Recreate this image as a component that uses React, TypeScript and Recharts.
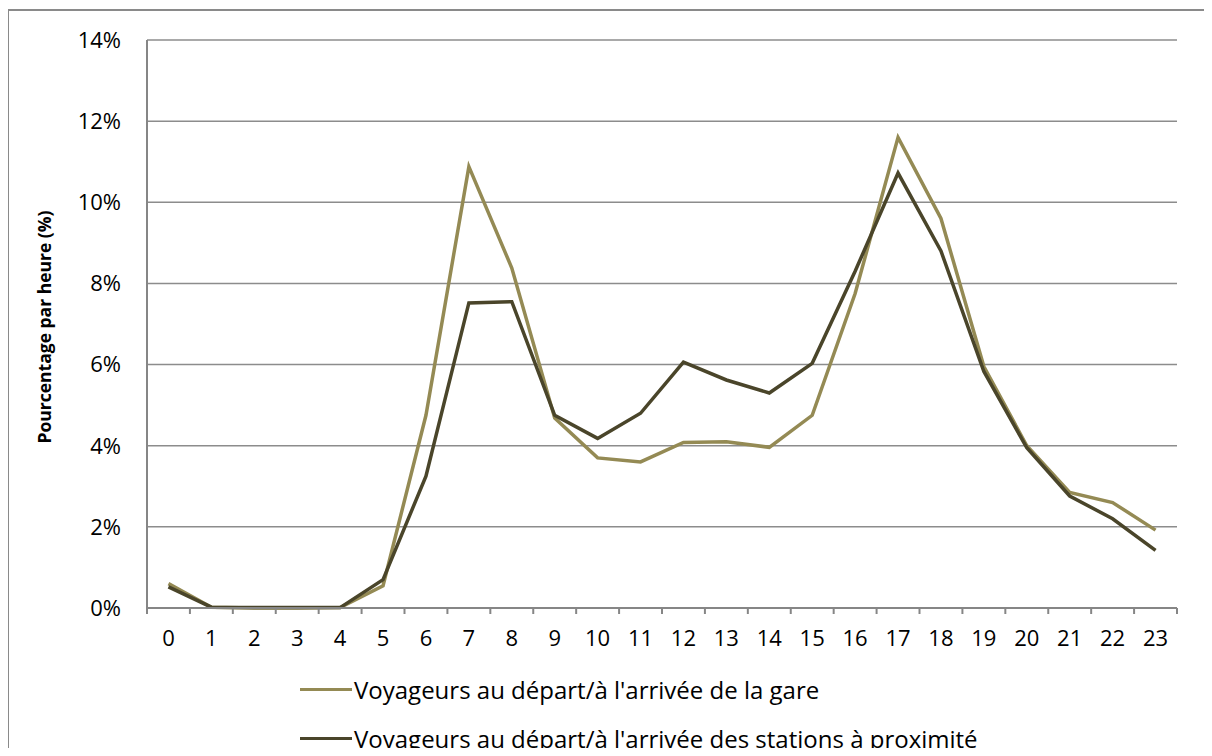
import React from "react"
import { LineChart, Line, XAxis, YAxis, CartesianGrid, Legend } from "recharts"

const HOURS = ["0", "1", "2", "3", "4", "5", "6", "7", "8", "9", "10", "11", "12", "13", "14", "15", "16", "17", "18", "19", "20", "21", "22", "23"]

const GARE = [0.6, 0.02, 0, 0, 0.01, 0.55, 4.75, 10.88, 8.38, 4.68, 3.7, 3.6, 4.08, 4.1, 3.96, 4.75, 7.75, 11.6, 9.6, 5.95, 4.0, 2.85, 2.6, 1.92]
const STATIONS = [0.52, 0.02, 0.01, 0.01, 0.01, 0.7, 3.25, 7.52, 7.55, 4.75, 4.18, 4.8, 6.06, 5.62, 5.3, 6.03, 8.3, 10.72, 8.8, 5.83, 3.95, 2.76, 2.2, 1.42]

const Y_TICKS = [0, 2, 4, 6, 8, 10, 12, 14]

const SERIES = [
    { key: "gare", name: "Voyageurs au départ/à l'arrivée de la gare", color: "#948A54" },
    { key: "stations", name: "Voyageurs au départ/à l'arrivée des stations à proximité", color: "#4A452A" },
]

const data = HOURS.map((h, i) => ({ hour: h, gare: GARE[i], stations: STATIONS[i] }))

const FONT = "'Open Sans', 'Noto Sans', sans-serif"
const AXIS_GRAY = "#868686"
// plot is 1030px wide, one band per hour
const BAND = 1030 / HOURS.length

function HourTick(props: any) {
    const { x, y, payload, index } = props
    const left = x - BAND / 2
    const right = x + BAND / 2
    return (
        <g>
            <line x1={left} y1={y - 8} x2={left} y2={y - 2} stroke={AXIS_GRAY} strokeWidth={2} />
            {index === HOURS.length - 1 && (
                <line x1={right} y1={y - 8} x2={right} y2={y - 2} stroke={AXIS_GRAY} strokeWidth={2} />
            )}
            <text x={x} y={y + 30} textAnchor="middle" fontSize={22} fontFamily={FONT} fill="#000">
                {payload.value}
            </text>
        </g>
    )
}

function YTitle(props: any) {
    const { viewBox } = props
    const cx = viewBox.x + 46
    const cy = viewBox.y + viewBox.height / 2 + 3
    return (
        <text
            x={cx}
            y={cy}
            transform={`rotate(-90, ${cx}, ${cy})`}
            textAnchor="middle"
            dominantBaseline="middle"
            fontSize={17.5}
            fontWeight={700}
            fontFamily={FONT}
            fill="#000"
        >
            Pourcentage par heure (%)
        </text>
    )
}

function LegendBox() {
    return (
        <div style={{ fontFamily: FONT, fontSize: 24, color: "#000", lineHeight: "49px" }}>
            {SERIES.map((s) => (
                <div key={s.key} style={{ display: "flex", alignItems: "center", height: 49 }}>
                    <span style={{ display: "inline-block", width: 52, height: 3.5, background: s.color, marginRight: 2 }} />
                    <span>{s.name}</span>
                </div>
            ))}
        </div>
    )
}

export default function App() {
    return (
        <div style={{ position: "relative", margin: -8, width: 1212, height: 756, background: "#fff", overflow: "hidden" }}>
            <div
                style={{
                    position: "absolute",
                    left: 7,
                    top: 9,
                    width: 1203,
                    height: 800,
                    border: "2px solid #8a8a8a",
                    boxSizing: "border-box",
                }}
            />
            <div style={{ position: "absolute", left: 0, top: 0 }}>
                <LineChart width={1212} height={756} data={data} margin={{ top: 40, right: 35, left: 0, bottom: 118 }}>
                    <CartesianGrid horizontal={true} vertical={false} stroke="#8c8c8c" strokeWidth={1.5} />
                    <XAxis
                        dataKey="hour"
                        height={30}
                        padding={{ left: BAND / 2, right: BAND / 2 }}
                        axisLine={{ stroke: AXIS_GRAY, strokeWidth: 2 }}
                        tickLine={false}
                        tick={<HourTick />}
                        interval={0}
                    />
                    <YAxis
                        width={147}
                        domain={[0, 14]}
                        ticks={Y_TICKS}
                        tickFormatter={(v: number) => `${v}%`}
                        axisLine={{ stroke: AXIS_GRAY, strokeWidth: 2 }}
                        tickLine={false}
                        tickMargin={20}
                        tick={{ fontSize: 22, fontFamily: FONT, fill: "#000" }}
                        label={<YTitle />}
                    />
                    {SERIES.map((s) => (
                        <Line
                            key={s.key}
                            dataKey={s.key}
                            name={s.name}
                            stroke={s.color}
                            strokeWidth={3.5}
                            dot={false}
                            activeDot={false}
                            isAnimationActive={false}
                        />
                    ))}
                    <Legend
                        layout="vertical"
                        align="center"
                        verticalAlign="middle"
                        content={<LegendBox />}
                        wrapperStyle={{ position: "absolute", left: 300, top: 665, width: 900, height: 98 }}
                    />
                </LineChart>
            </div>
        </div>
    )
}
